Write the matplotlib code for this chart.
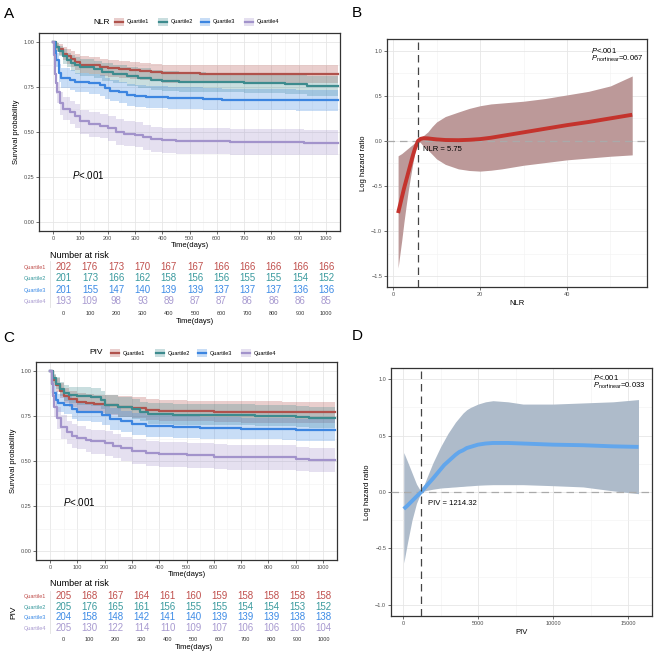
import numpy as np
import matplotlib
matplotlib.use("Agg")
import matplotlib.pyplot as plt
from matplotlib.patches import Rectangle
from matplotlib.lines import Line2D

plt.rcParams['font.family'] = ['Liberation Sans', 'DejaVu Sans']
plt.rcParams['mathtext.fontset'] = 'custom'
plt.rcParams['mathtext.rm'] = 'Liberation Sans'
plt.rcParams['mathtext.it'] = 'Liberation Sans:italic'

W, H = 660, 657

# ---------------- data ----------------
groups = ["Quartile1", "Quartile2", "Quartile3", "Quartile4"]
line_cols = ["#B0524C", "#3D8B8E", "#3C85E0", "#A293CB"]
table_cols = ["#C0504D", "#3A9A9E", "#3D8BE6", "#A89AD0"]

risk_times = [0, 100, 200, 300, 400, 500, 600, 700, 800, 900, 1000]

# NLR Kaplan-Meier (times, survival, lower, upper)
nlr_t = [
    [0, 10, 20, 35, 50, 65, 80, 100, 130, 170, 200, 240, 280, 320, 360, 400, 540, 620],
    [0, 10, 20, 35, 50, 65, 80, 100, 150, 180, 220, 270, 310, 360, 400, 460, 560, 700, 850, 930],
    [0, 5, 10, 20, 30, 60, 80, 130, 170, 190, 210, 240, 270, 300, 340, 420, 550, 620, 890],
    [0, 3, 5, 8, 10, 15, 25, 35, 60, 80, 100, 130, 170, 200, 230, 260, 300, 330, 360, 400, 450, 650, 920],
]
nlr_s = [
    [1.0, 0.975, 0.96, 0.935, 0.92, 0.905, 0.89, 0.875, 0.87, 0.86, 0.855, 0.85, 0.845, 0.84, 0.835, 0.826, 0.823, 0.82],
    [1.0, 0.97, 0.95, 0.92, 0.90, 0.885, 0.87, 0.86, 0.85, 0.835, 0.825, 0.81, 0.80, 0.79, 0.785, 0.78, 0.775, 0.77, 0.765, 0.755],
    [1.0, 0.95, 0.90, 0.83, 0.80, 0.79, 0.775, 0.77, 0.76, 0.745, 0.73, 0.72, 0.705, 0.70, 0.695, 0.69, 0.685, 0.68, 0.675],
    [1.0, 0.93, 0.88, 0.82, 0.77, 0.72, 0.66, 0.63, 0.61, 0.59, 0.56, 0.545, 0.535, 0.52, 0.50, 0.49, 0.485, 0.47, 0.46, 0.455, 0.45, 0.445, 0.44],
]
nlr_km_lo = [
    [1.0, 0.95, 0.93, 0.90, 0.88, 0.86, 0.845, 0.83, 0.825, 0.81, 0.805, 0.80, 0.795, 0.79, 0.785, 0.775, 0.772, 0.77],
    [1.0, 0.945, 0.92, 0.88, 0.86, 0.84, 0.825, 0.81, 0.80, 0.785, 0.77, 0.755, 0.745, 0.735, 0.73, 0.725, 0.72, 0.715, 0.71, 0.70],
    [1.0, 0.92, 0.86, 0.78, 0.745, 0.735, 0.72, 0.71, 0.70, 0.685, 0.67, 0.66, 0.645, 0.64, 0.635, 0.63, 0.625, 0.62, 0.615],
    [1.0, 0.89, 0.83, 0.77, 0.71, 0.66, 0.595, 0.565, 0.545, 0.52, 0.49, 0.475, 0.465, 0.45, 0.43, 0.42, 0.415, 0.40, 0.39, 0.385, 0.38, 0.375, 0.37],
]
nlr_km_hi = [
    [1.0, 0.995, 0.99, 0.97, 0.96, 0.95, 0.935, 0.92, 0.915, 0.905, 0.90, 0.895, 0.89, 0.885, 0.88, 0.875, 0.872, 0.87],
    [1.0, 0.995, 0.98, 0.96, 0.94, 0.93, 0.915, 0.905, 0.895, 0.885, 0.875, 0.86, 0.855, 0.845, 0.84, 0.835, 0.83, 0.825, 0.82, 0.81],
    [1.0, 0.98, 0.94, 0.88, 0.855, 0.845, 0.83, 0.825, 0.815, 0.80, 0.79, 0.78, 0.765, 0.76, 0.755, 0.75, 0.745, 0.74, 0.735],
    [1.0, 0.97, 0.93, 0.875, 0.83, 0.78, 0.725, 0.695, 0.675, 0.655, 0.625, 0.61, 0.60, 0.59, 0.57, 0.56, 0.555, 0.54, 0.53, 0.525, 0.52, 0.515, 0.51],
]
nlr_risk = [
    [202, 176, 173, 170, 167, 167, 166, 166, 166, 166, 166],
    [201, 173, 166, 162, 158, 156, 156, 155, 155, 154, 152],
    [201, 155, 147, 140, 139, 139, 137, 137, 137, 136, 136],
    [193, 109, 98, 93, 89, 87, 87, 86, 86, 86, 85],
]

# PIV Kaplan-Meier
piv_t = [
    [0, 10, 20, 35, 50, 70, 100, 130, 160, 200, 250, 300, 350, 400, 500, 600, 700, 850],
    [0, 10, 20, 35, 50, 70, 100, 150, 185, 200, 250, 300, 330, 360, 450, 600, 750, 900, 950],
    [0, 5, 10, 20, 30, 50, 80, 100, 150, 190, 220, 260, 300, 350, 450, 550, 700, 850, 900],
    [0, 5, 10, 15, 25, 40, 60, 80, 100, 130, 150, 200, 230, 260, 300, 350, 400, 500, 600, 650, 900, 950],
]
piv_s = [
    [1.0, 0.95, 0.92, 0.89, 0.86, 0.845, 0.83, 0.82, 0.815, 0.81, 0.80, 0.795, 0.785, 0.78, 0.776, 0.773, 0.771, 0.77],
    [1.0, 0.96, 0.93, 0.90, 0.88, 0.865, 0.86, 0.855, 0.84, 0.81, 0.80, 0.79, 0.775, 0.76, 0.757, 0.755, 0.752, 0.745, 0.74],
    [1.0, 0.93, 0.88, 0.84, 0.82, 0.81, 0.79, 0.775, 0.77, 0.755, 0.735, 0.72, 0.705, 0.695, 0.69, 0.685, 0.68, 0.678, 0.674],
    [1.0, 0.93, 0.86, 0.80, 0.74, 0.69, 0.66, 0.64, 0.63, 0.615, 0.61, 0.60, 0.585, 0.57, 0.555, 0.545, 0.537, 0.532, 0.525, 0.52, 0.512, 0.507],
]
piv_km_lo = [
    [1.0, 0.92, 0.885, 0.85, 0.82, 0.80, 0.78, 0.77, 0.765, 0.755, 0.745, 0.74, 0.73, 0.725, 0.72, 0.715, 0.713, 0.71],
    [1.0, 0.935, 0.90, 0.86, 0.835, 0.82, 0.81, 0.805, 0.79, 0.76, 0.745, 0.735, 0.72, 0.705, 0.70, 0.698, 0.695, 0.69, 0.685],
    [1.0, 0.895, 0.84, 0.79, 0.77, 0.76, 0.735, 0.72, 0.715, 0.70, 0.675, 0.66, 0.645, 0.635, 0.63, 0.625, 0.62, 0.617, 0.613],
    [1.0, 0.895, 0.81, 0.745, 0.68, 0.625, 0.595, 0.575, 0.565, 0.55, 0.54, 0.53, 0.515, 0.50, 0.485, 0.475, 0.467, 0.462, 0.455, 0.45, 0.443, 0.44],
]
piv_km_hi = [
    [1.0, 0.98, 0.96, 0.935, 0.905, 0.89, 0.88, 0.87, 0.865, 0.865, 0.86, 0.855, 0.845, 0.84, 0.836, 0.833, 0.832, 0.83],
    [1.0, 0.985, 0.965, 0.94, 0.925, 0.91, 0.91, 0.905, 0.89, 0.865, 0.855, 0.845, 0.83, 0.82, 0.817, 0.815, 0.812, 0.805, 0.80],
    [1.0, 0.965, 0.925, 0.89, 0.87, 0.86, 0.84, 0.83, 0.825, 0.81, 0.795, 0.78, 0.765, 0.755, 0.75, 0.745, 0.74, 0.738, 0.735],
    [1.0, 0.965, 0.91, 0.855, 0.80, 0.755, 0.725, 0.705, 0.695, 0.68, 0.675, 0.665, 0.65, 0.635, 0.62, 0.61, 0.605, 0.6, 0.595, 0.59, 0.58, 0.575],
]
piv_risk = [
    [205, 168, 167, 164, 161, 160, 159, 158, 158, 158, 158],
    [205, 176, 165, 161, 156, 155, 155, 154, 154, 153, 152],
    [204, 158, 148, 142, 141, 140, 139, 139, 139, 138, 138],
    [205, 130, 122, 114, 110, 109, 107, 106, 106, 106, 104],
]

# restricted cubic spline, NLR (x, log HR, lower, upper)
nlr_x = [1.15, 1.5, 2, 2.5, 3, 3.5, 4, 4.5, 5, 5.4, 5.75, 6.3, 7, 8, 9, 10, 12, 15, 17.5,
         20, 22.5, 25, 30, 35, 40, 45, 50, 55]
nlr_y = [-0.80, -0.73, -0.63, -0.53, -0.44, -0.35, -0.26, -0.17, -0.09, -0.04, 0.0, 0.022, 0.03,
         0.028, 0.022, 0.017, 0.01, 0.008, 0.012, 0.02, 0.035, 0.055, 0.095, 0.135, 0.175, 0.21,
         0.25, 0.29]
nlr_rcs_lo = [-1.41, -1.28, -1.10, -0.90, -0.72, -0.55, -0.40, -0.26, -0.13, -0.05, 0.0, -0.02,
              -0.06, -0.10, -0.15, -0.20, -0.26, -0.31, -0.328, -0.335, -0.325, -0.31, -0.27,
              -0.24, -0.21, -0.19, -0.17, -0.155]
nlr_rcs_hi = [-0.165, -0.155, -0.14, -0.12, -0.10, -0.08, -0.06, -0.04, -0.02, -0.008, 0.0, 0.03,
              0.06, 0.10, 0.16, 0.21, 0.27, 0.32, 0.36, 0.39, 0.41, 0.42, 0.44, 0.47, 0.51, 0.55,
              0.61, 0.72]
nlr_ref = 5.75

# restricted cubic spline, PIV
piv_x = [50, 300, 600, 900, 1214.32, 1600, 2000, 2250, 2500, 2750, 3000, 3250, 3500, 3750, 4000,
         4250, 4500, 5000, 5500, 6000, 7000, 8000, 10000, 12000, 14000, 15700]
piv_y = [-0.15, -0.12, -0.08, -0.04, 0.0, 0.06, 0.12, 0.16, 0.20, 0.24, 0.27, 0.30, 0.33, 0.355,
         0.37, 0.39, 0.40, 0.42, 0.43, 0.435, 0.435, 0.43, 0.42, 0.415, 0.405, 0.40]
piv_rcs_lo = [-0.63, -0.45, -0.25, -0.10, 0.0, 0.015, 0.025, 0.03, 0.035, 0.038, 0.04, 0.043,
              0.045, 0.048, 0.05, 0.053, 0.055, 0.06, 0.063, 0.065, 0.065, 0.065, 0.056, 0.045,
              0.01, -0.015]
piv_rcs_hi = [0.35, 0.27, 0.17, 0.07, 0.0, 0.13, 0.26, 0.33, 0.40, 0.46, 0.52, 0.57, 0.62, 0.66,
              0.70, 0.73, 0.75, 0.78, 0.80, 0.81, 0.80, 0.78, 0.78, 0.79, 0.80, 0.82]
piv_ref = 1214.32


# ---------------- helpers ----------------
def box(x0, y0, x1, y1):
    # pixel box (top-left origin) -> figure fraction rect
    return [x0 / W, 1 - y1 / H, (x1 - x0) / W, (y1 - y0) / H]


def style_panel(ax):
    ax.set_facecolor("white")
    for s in ax.spines.values():
        s.set_color("#333333")
        s.set_linewidth(0.9)
    ax.grid(True, which="major", color="#E6E6E6", lw=0.6)
    ax.grid(True, which="minor", color="#F2F2F2", lw=0.4)
    ax.set_axisbelow(True)
    ax.tick_params(which="major", length=2, width=0.5, color="#333333",
                   labelsize=4, labelcolor="#4D4D4D", pad=1.5)
    ax.tick_params(which="minor", length=0)


def km_panel(fig, rect, t_list, s_list, lo_list, hi_list, p_xy):
    ax = fig.add_axes(rect)
    for t, s, lo, hi, c in zip(t_list, s_list, lo_list, hi_list, line_cols):
        tt = list(t) + [1045]
        ax.fill_between(tt, list(lo) + [lo[-1]], list(hi) + [hi[-1]], step="post",
                        color=c, alpha=0.28, lw=0)
        ax.step(tt, list(s) + [s[-1]], where="post", color=c, lw=1.6)
    ax.set_xlim(-52, 1052)
    ax.set_ylim(-0.05, 1.05)
    ax.set_xticks(risk_times)
    ax.set_xticks(np.arange(50, 1050, 100), minor=True)
    ax.set_yticks([0, 0.25, 0.5, 0.75, 1.0])
    ax.set_yticklabels(["0.00", "0.25", "0.50", "0.75", "1.00"])
    ax.set_yticks([0.125, 0.375, 0.625, 0.875], minor=True)
    style_panel(ax)
    ax.set_xlabel("Time(days)", fontsize=5.5, labelpad=1)
    ax.set_ylabel("Survival probability", fontsize=5.5, labelpad=2)
    ax.text(p_xy[0], p_xy[1], r"$\it{P}$<.001", fontsize=7, ha="left", va="center")
    return ax


def km_legend(fig, title, title_x, key_x, y):
    fig.text(title_x / W, 1 - y / H, title, fontsize=6, ha="center", va="center")
    for i, (g, c) in enumerate(zip(groups, line_cols)):
        x = key_x[i]
        fig.patches.append(Rectangle((x / W, 1 - (y + 4) / H), 10 / W, 8 / H,
                                     transform=fig.transFigure, color=c, alpha=0.28, lw=0))
        fig.lines.append(Line2D([(x + 1) / W, (x + 9) / W], [1 - y / H, 1 - y / H],
                                transform=fig.transFigure, color=c, lw=1.6))
        fig.text((x + 13) / W, 1 - y / H, g, fontsize=4, ha="left", va="center")


def risk_table(fig, rect, risk, title_y, ylab=None):
    ax = fig.add_axes(rect)
    ax.set_xlim(-52, 1052)
    ax.set_ylim(3.5, -0.5)
    for i, (row, c) in enumerate(zip(risk, table_cols)):
        for t, n in zip(risk_times, row):
            ax.text(t, i, str(n), color=c, fontsize=7, ha="center", va="center")
    ax.set_yticks(range(4))
    ax.set_yticklabels(groups, fontsize=4)
    for lab, c in zip(ax.get_yticklabels(), table_cols):
        lab.set_color(c)
    ax.set_xticks(risk_times)
    ax.tick_params(axis="both", length=0, pad=3)
    ax.tick_params(axis="x", labelsize=4, labelcolor="#333333")
    for s in ["top", "right", "bottom"]:
        ax.spines[s].set_visible(False)
    ax.spines["left"].set_color("#E0E0E0")
    ax.spines["left"].set_linewidth(0.6)
    ax.set_xlabel("Time(days)", fontsize=5.5, labelpad=1)
    fig.text(50 / W, 1 - title_y / H, "Number at risk", fontsize=6.5, ha="left", va="center")
    if ylab:
        ax.set_ylabel(ylab, fontsize=6, labelpad=4)
    return ax


def spline_panel(fig, rect, x, y, lo, hi, ref, line_c, fill_c, xlim, ylim,
                 xticks, xminor, yticks, yminor, xlabel, ref_label, ref_xy, p_txt):
    ax = fig.add_axes(rect)
    ax.fill_between(x, lo, hi, color=fill_c, lw=0, zorder=2)
    ax.axhline(0, color="#AAAAAA", lw=0.9, ls=(0, (6, 4)), zorder=3)
    ax.plot(x, y, color=line_c, lw=2.8, solid_capstyle="butt", zorder=4)
    ax.axvline(ref, color="#444444", lw=0.9, ls=(0, (6, 4)), zorder=5)
    ax.set_xlim(*xlim)
    ax.set_ylim(*ylim)
    ax.set_xticks(xticks)
    ax.set_xticks(xminor, minor=True)
    ax.set_yticks(yticks)
    ax.set_yticks(yminor, minor=True)
    style_panel(ax)
    ax.set_xlabel(xlabel, fontsize=5.5, labelpad=2)
    ax.set_ylabel("Log hazard ratio", fontsize=5.5, labelpad=3)
    ax.text(ref_xy[0], ref_xy[1], ref_label, fontsize=5.5, ha="left", va="center", zorder=6)
    # p-values placed in axes fraction from the top-right
    ax.text(p_txt[0], p_txt[1], r"$\it{P}$<.001", fontsize=5.5, ha="left", va="center",
            transform=ax.transAxes)
    ax.text(p_txt[0], p_txt[1] - 0.034, r"$\it{P}_{\rm nonlinear}$=" + p_txt[2], fontsize=5.5,
            ha="left", va="center", transform=ax.transAxes)
    return ax


# ---------------- figure ----------------
fig = plt.figure(figsize=(W / 100, H / 100), dpi=100)
fig.patch.set_facecolor("white")

# A
km_panel(fig, box(39, 33, 340, 231), nlr_t, nlr_s, nlr_km_lo, nlr_km_hi, (70, 0.26))
km_legend(fig, "NLR", 102, [114, 158, 200, 244], 22)
risk_table(fig, box(50, 261, 340, 307), nlr_risk, 256)

# C
km_panel(fig, box(36, 362, 337, 560), piv_t, piv_s, piv_km_lo, piv_km_hi, (47, 0.27))
km_legend(fig, "PIV", 96, [110, 155, 197, 241], 353)
risk_table(fig, box(50, 591, 337, 633), piv_risk, 584, ylab="PIV")

# B
spline_panel(fig, box(387, 39, 647, 287), nlr_x, nlr_y, nlr_rcs_lo, nlr_rcs_hi, nlr_ref,
             "#C4332D", "#BC9999", (-1.4, 58.4), (-1.62, 1.13),
             [0, 20, 40], [10, 30, 50], [-1.5, -1.0, -0.5, 0.0, 0.5, 1.0],
             [-1.25, -0.75, -0.25, 0.25, 0.75],
             "NLR", "NLR = 5.75", (6.9, -0.09), (0.785, 0.955, "0.067"))

# D
spline_panel(fig, box(391, 368, 652, 616), piv_x, piv_y, piv_rcs_lo, piv_rcs_hi, piv_ref,
             "#62A6EC", "#AEBBCA", (-800, 16600), (-1.1, 1.1),
             [0, 5000, 10000, 15000], [2500, 7500, 12500], [-1.0, -0.5, 0.0, 0.5, 1.0],
             [-0.75, -0.25, 0.25, 0.75],
             "PIV", "PIV = 1214.32", (1650, -0.1), (0.773, 0.962, "0.033"))

# panel letters
for lab, (x, y) in zip("ABCD", [(9, 14), (357, 13), (9, 338), (357, 336)]):
    fig.text(x / W, 1 - y / H, lab, fontsize=11, ha="center", va="center")

fig.savefig("out.png", dpi=100)
